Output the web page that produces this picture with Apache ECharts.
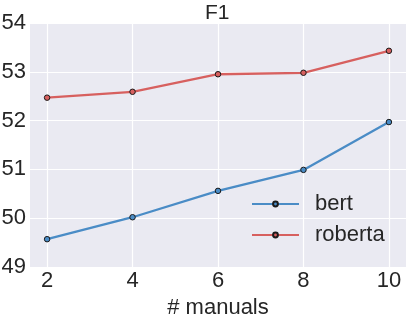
<!DOCTYPE html>
<html><head><meta charset="utf-8">
<script src="https://cdn.jsdelivr.net/npm/echarts@6/dist/echarts.min.js"></script>
<style>html,body{margin:0;padding:0;background:#fff}#c{width:407px;height:318px}</style>
</head><body><div id="c"></div>
<script>
const manuals = [2, 4, 6, 8, 10];
const bert = [49.57, 50.02, 50.56, 50.99, 51.97];
const roberta = [52.47, 52.59, 52.95, 52.98, 53.43];
const yTicks = [49, 50, 51, 52, 53, 54];
const seriesNames = ['bert', 'roberta'];
const colors = ['#4a8cc6', '#d7605f'];
const font = 'Liberation Sans, Arial, sans-serif';
const txt = '#262626';
const chart = echarts.init(document.getElementById('c'), null, {renderer: 'canvas'});
function mk(name, vals, color) {
  return {
    name: name, type: 'line', data: manuals.map((m, i) => [m, vals[i]]),
    symbol: 'circle', symbolSize: 5.5,
    lineStyle: {color: color, width: 2.3},
    itemStyle: {color: color, borderColor: '#1a1a1a', borderWidth: 1},
    emphasis: {disabled: true}, z: 3
  };
}
chart.setOption({
  animation: false,
  backgroundColor: '#fff',
  title: {text: 'F1', left: 200, top: -2, textStyle: {fontFamily: font, fontSize: 21, fontWeight: 'normal', color: txt}},
  grid: {left: 30, right: 1, top: 23, bottom: 51, show: true, backgroundColor: '#eaeaf2', borderWidth: 0,
         containLabel: false, outerBoundsMode: 'none'},
  legend: {
    data: seriesNames, orient: 'vertical', left: 246, top: 188, itemWidth: 47, itemHeight: 6, itemGap: 9,
    textStyle: {fontFamily: font, fontSize: 22, color: txt, padding: [0, 0, 0, 11]}
  },
  xAxis: {
    type: 'value', min: 1.6, max: 10.4,
    name: '# manuals', nameLocation: 'middle', nameGap: 24,
    nameTextStyle: {fontFamily: font, fontSize: 22, color: txt},
    axisLine: {show: false}, axisTick: {show: false, customValues: manuals},
    axisLabel: {customValues: manuals, fontFamily: font, fontSize: 22, color: txt, margin: 3},
    splitLine: {show: true, lineStyle: {color: '#ffffff', width: 1.2}}
  },
  yAxis: {
    type: 'value', min: 49, max: 54, interval: 1,
    axisLine: {show: false}, axisTick: {show: false},
    axisLabel: {fontFamily: font, fontSize: 22, color: txt, margin: 4, showMinLabel: true, showMaxLabel: true},
    splitLine: {show: true, lineStyle: {color: '#ffffff', width: 1.2}}
  },
  series: [mk('bert', bert, colors[0]), mk('roberta', roberta, colors[1])]
});
</script></body></html>
